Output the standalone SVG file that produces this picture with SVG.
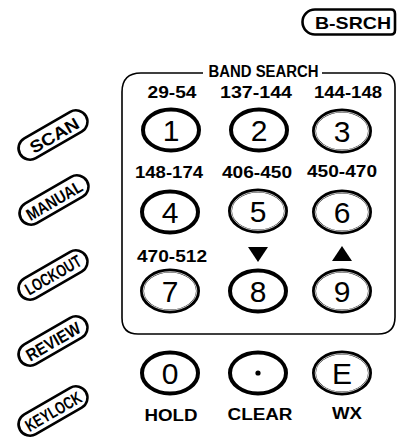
<svg xmlns="http://www.w3.org/2000/svg" width="397" height="441" viewBox="0 0 397 441">
<style>
text{font-family:"Liberation Sans",Arial,sans-serif;fill:#000}
.lbl{font-size:16px;font-weight:bold;text-anchor:middle}
.dig{font-size:30px;text-anchor:middle}
.key{fill:#fff;stroke:#000;stroke-width:4}
.dbl{fill:none;stroke:#fff;stroke-width:0.8}
.pill{fill:#fff;stroke:#000;stroke-width:2.6}
.pt{font-size:17px;font-weight:bold;text-anchor:middle}
.box{fill:none;stroke:#000;stroke-width:1.6}
</style>
<rect width="397" height="441" fill="#fff"/>

<g id="b-srch">
<path class="pill" d="M315,9.5 H391 Q395,9.5 395,14 V30 Q395,34.5 391,34.5 H315 A12.5,12.5 0 0 1 315,9.5 Z"/>
<text class="pt" x="353" y="29" font-size="19" textLength="76" lengthAdjust="spacingAndGlyphs">B-SRCH</text>
</g>

<g id="band-search">
<path class="box" d="M203,73 H141 Q122,73 122,92 V318 Q122,334 138,334 H378 Q395,334 395,317 V87 Q395,73 381,73 H322"/>
<text class="lbl" x="263.5" y="77" font-size="15" textLength="110" lengthAdjust="spacingAndGlyphs">BAND SEARCH</text>
</g>

<g id="labels">
<text class="lbl" x="172" y="98" textLength="49" lengthAdjust="spacingAndGlyphs">29-54</text>
<text class="lbl" x="256" y="98" textLength="72" lengthAdjust="spacingAndGlyphs">137-144</text>
<text class="lbl" x="348" y="98" textLength="68" lengthAdjust="spacingAndGlyphs">144-148</text>
<text class="lbl" x="169" y="178" textLength="68" lengthAdjust="spacingAndGlyphs">148-174</text>
<text class="lbl" x="257" y="178" textLength="70" lengthAdjust="spacingAndGlyphs">406-450</text>
<text class="lbl" x="342" y="177" textLength="70" lengthAdjust="spacingAndGlyphs">450-470</text>
<text class="lbl" x="172" y="262" textLength="70" lengthAdjust="spacingAndGlyphs">470-512</text>
<polygon points="248,247 268,247 258,262"/>
<polygon points="332,261 352,261 342,246"/>
<text class="lbl" x="171" y="421" textLength="53" lengthAdjust="spacingAndGlyphs">HOLD</text>
<text class="lbl" x="260" y="420" textLength="65" lengthAdjust="spacingAndGlyphs">CLEAR</text>
<text class="lbl" x="347" y="419" textLength="30" lengthAdjust="spacingAndGlyphs">WX</text>
</g>

<g id="key-1"><ellipse class="key" cx="171" cy="130" rx="28" ry="20.5"/><text class="dig" x="171" y="141">1</text></g>
<g id="key-2"><ellipse class="key" cx="259" cy="130" rx="28" ry="20.5"/><text class="dig" x="259" y="141">2</text></g>
<g id="key-3"><ellipse class="key" cx="342" cy="131" rx="28" ry="20.5"/><ellipse class="dbl" cx="342" cy="131" rx="26.8" ry="19.3"/><text class="dig" x="342" y="142">3</text></g>
<g id="key-4"><ellipse class="key" cx="170" cy="212" rx="28" ry="20.5"/><text class="dig" x="170" y="223">4</text></g>
<g id="key-5"><ellipse class="key" cx="258" cy="211" rx="28" ry="20.5"/><ellipse class="dbl" cx="258" cy="211" rx="26.8" ry="19.3"/><text class="dig" x="258" y="222">5</text></g>
<g id="key-6"><ellipse class="key" cx="342" cy="212" rx="28" ry="20.5"/><ellipse class="dbl" cx="342" cy="212" rx="26.8" ry="19.3"/><text class="dig" x="342" y="223">6</text></g>
<g id="key-7"><ellipse class="key" cx="170" cy="291" rx="28" ry="20.5"/><ellipse class="dbl" cx="170" cy="291" rx="26.8" ry="19.3"/><text class="dig" x="170" y="302">7</text></g>
<g id="key-8"><ellipse class="key" cx="258" cy="291" rx="28" ry="20.5"/><text class="dig" x="258" y="302">8</text></g>
<g id="key-9"><ellipse class="key" cx="342" cy="291" rx="28" ry="20.5"/><ellipse class="dbl" cx="342" cy="291" rx="26.8" ry="19.3"/><text class="dig" x="342" y="302">9</text></g>
<g id="key-0"><ellipse class="key" cx="170" cy="373" rx="28" ry="20.5"/><text class="dig" x="170" y="384">0</text></g>
<g id="key-dot"><ellipse class="key" cx="258" cy="373" rx="28" ry="20.5"/><circle cx="258" cy="373" r="2.6"/></g>
<g id="key-e"><ellipse class="key" cx="342" cy="373" rx="28" ry="20.5"/><ellipse class="dbl" cx="342" cy="373" rx="26.8" ry="19.3"/><text class="dig" x="342" y="384">E</text></g>

<g id="scan" transform="translate(53,135) rotate(-30)"><rect class="pill" x="-38" y="-11.5" width="76" height="23" rx="11.5"/><text class="pt" x="1" y="7" font-size="19" textLength="54" lengthAdjust="spacingAndGlyphs">SCAN</text></g>
<g id="manual" transform="translate(54,200) rotate(-30)"><rect class="pill" x="-38" y="-11.5" width="76" height="23" rx="11.5"/><text class="pt" x="0" y="6.5" font-size="18" textLength="62" lengthAdjust="spacingAndGlyphs">MANUAL</text></g>
<g id="lockout" transform="translate(53,275) rotate(-30)"><rect class="pill" x="-38" y="-11.5" width="76" height="23" rx="11.5"/><text class="pt" x="0" y="6" font-size="16" textLength="62" lengthAdjust="spacingAndGlyphs">LOCKOUT</text></g>
<g id="review" transform="translate(53,341) rotate(-30)"><rect class="pill" x="-38" y="-11.5" width="76" height="23" rx="11.5"/><text class="pt" x="0" y="6.5" font-size="18" textLength="60" lengthAdjust="spacingAndGlyphs">REVIEW</text></g>
<g id="keylock" transform="translate(53,411) rotate(-30)"><rect class="pill" x="-38" y="-11.5" width="76" height="23" rx="11.5"/><text class="pt" x="0" y="6.5" font-size="17" textLength="62" lengthAdjust="spacingAndGlyphs">KEYLOCK</text></g>
</svg>
